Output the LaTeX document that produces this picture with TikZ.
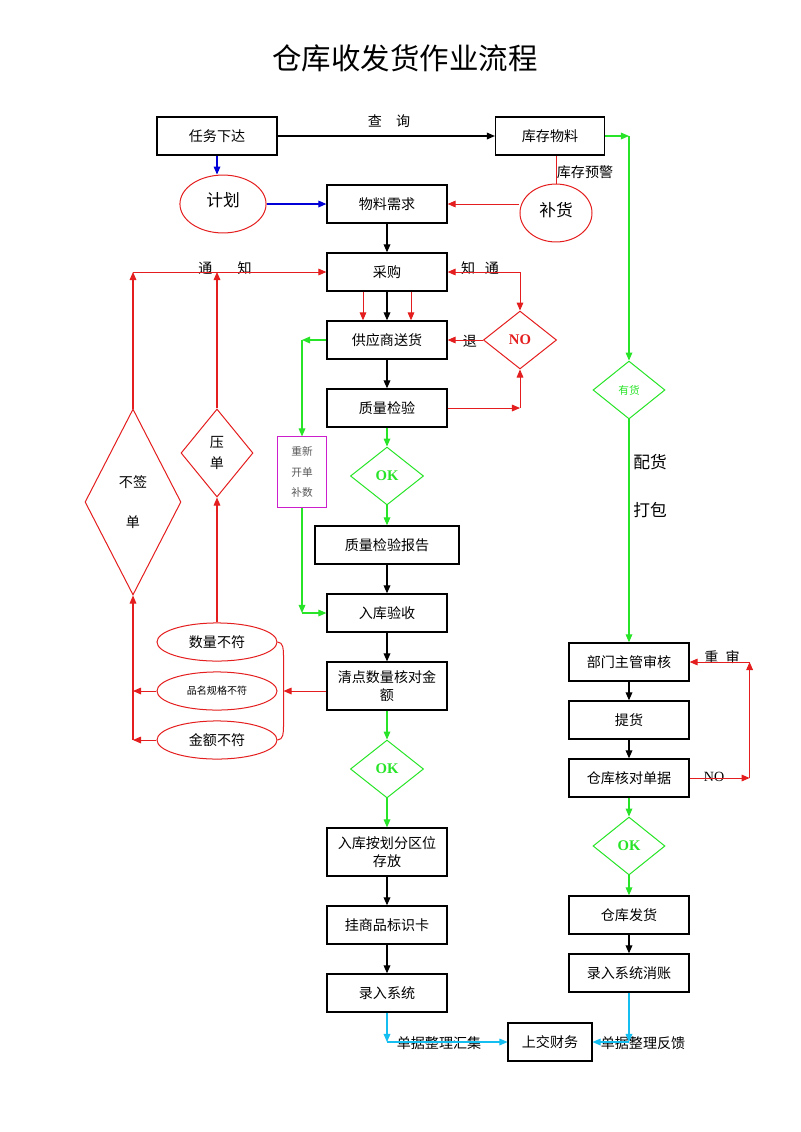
\documentclass[tikz,border=0pt]{standalone}
\usepackage{fontspec}
\setmainfont{Liberation Serif}
\newfontfamily\cjk{Noto Sans CJK SC}
\usetikzlibrary{shapes,arrows.meta,calc,positioning}
\definecolor{flowred}{RGB}{228,30,30}
\definecolor{flowgreen}{RGB}{40,228,40}
\definecolor{flowblue}{RGB}{0,0,215}
\definecolor{flowcyan}{RGB}{20,190,240}
\definecolor{flowpink}{RGB}{205,30,205}

\begin{document}
\begin{tikzpicture}[x=0.02625cm,y=-0.02625cm,
    >={Triangle[length=6pt,width=5pt]},
    font=\cjk\fontsize{10.5}{13}\selectfont]
      \tikzset{box/.style={draw,
          line width=0.9pt,
          minimum width=3.15cm,
          minimum height=1cm,
          inner sep=1pt,
          align=center},
        redoval/.style={draw=flowred, ellipse, line width=0.75pt,
          minimum width=3.15cm, minimum height=1cm, inner sep=0pt},
        reddiamond/.style={draw=flowred, diamond, line width=0.75pt,
          inner sep=0pt, align=center},
        gdiamond/.style={draw=flowgreen, diamond, line width=0.75pt,
          minimum width=1.92cm, minimum height=1.52cm, inner sep=0pt,
          text=flowgreen},
        okfont/.style={font=\rmfamily\bfseries\fontsize{11}{13}\selectfont},
        bigfont/.style={font=\cjk\fontsize{12.5}{15}\selectfont},
        line/.style={line width=0.9pt},
        redline/.style={draw=flowred, line width=0.75pt},
        greenline/.style={draw=flowgreen, line width=0.8pt}
      }
      \useasboundingbox (0,0) rectangle (800,1132);

      \node (title) at (405,58) {\fontsize{22}{26}\selectfont 仓库收发货作业流程};

      % middle column
      \node [box] (task) at (217,136) {任务下达};
      \node [box,minimum width=2.86cm] (stock) at (550,136) {库存物料};
      \node [box] (need) at (387,204) {物料需求};
      \node [box] (buy) at (387,272) {采购};
      \node [box] (supply) at (387,340) {供应商送货};
      \node [box] (check) at (387,408) {质量检验};
      \node [gdiamond,okfont] (ok1) at (387,476) {OK};
      \node [box,minimum width=3.78cm] (report) at (387,545) {质量检验报告};
      \node [box] (accept) at (387,613) {入库验收};
      \node [box,minimum height=1.26cm] (count) at (387,686) {清点数量核对金\\额};
      \node [gdiamond,okfont] (ok2) at (387,769) {OK};
      \node [box,minimum height=1.26cm] (store) at (387,852) {入库按划分区位\\存放};
      \node [box] (tag) at (387,925) {挂商品标识卡};
      \node [box] (entry) at (387,993) {录入系统};
      \node [box,minimum width=2.2cm] (finance) at (550,1042) {上交财务};

      % right column
      \node [gdiamond,minimum width=1.89cm,font=\cjk\fontsize{8}{10}\selectfont] (have) at (629,390) {有货};
      \node [box] (approve) at (629,662) {部门主管审核};
      \node [box] (pick) at (629,720) {提货};
      \node [box] (verify) at (629,778) {仓库核对单据};
      \node [gdiamond,okfont,minimum width=1.89cm] (ok3) at (629,846) {OK};
      \node [box] (ship) at (629,915) {仓库发货};
      \node [box] (writeoff) at (629,973) {录入系统消账};

      % ovals and red diamonds
      \node [redoval,bigfont,minimum width=2.26cm,minimum height=1.52cm] (plan) at (223,204) {\raisebox{7pt}{计划}};
      \node [redoval,bigfont,minimum width=1.89cm,minimum height=1.52cm] (refill) at (556,213) {\raisebox{6pt}{补货}};
      \node [reddiamond,okfont,text=flowred,minimum width=1.92cm,minimum height=1.52cm] (no1) at (520,340) {NO};
      \node [reddiamond,minimum width=2.52cm,minimum height=4.88cm] (nosign) at (133,502) {不签\\[0.6cm]单};
      \node [reddiamond,minimum width=1.89cm,minimum height=2.31cm] (hold) at (217,453) {压\\[0.1cm]单};
      \node [redoval] (qty) at (217,642) {数量不符};
      \node [redoval,font=\cjk\fontsize{7.5}{9}\selectfont] (spec) at (217,691) {品名规格不符};
      \node [redoval] (amount) at (217,740) {金额不符};
      \node [draw=flowpink,line width=0.75pt,minimum width=1.29cm,minimum height=1.84cm,align=center,
        text=black!65,font=\cjk\fontsize{8}{15}\selectfont] (redo) at (302,472) {重新\\开单\\补数};

      % labels
      \node (query) at (389,121) {查\quad 询};
      \node (warn) at (585,172) {库存预警};
      \node (notice) at (225,268) {通\hspace{1.8em}知};
      \node (notice2) at (480,268) {知\hspace{0.7em}通};
      \node (back) at (470,341) {退};
      \node (recheck) at (722,657) {重\hspace{0.5em}审};
      \node [font=\rmfamily\fontsize{10.5}{13}\selectfont] (nolbl) at (714,777) {NO};
      \node [bigfont] (sort) at (650,462) {配货};
      \node [bigfont] (pack) at (650,510) {打包};
      \node (collect) at (439,1043) {单据整理汇集};
      \node (feedback) at (643,1043) {单据整理反馈};

      % black flow
      \draw [->,line] (task)--(stock);
      \draw [->,line] (need)--(buy);
      \draw [->,line] (buy)--(supply);
      \draw [->,line] (supply)--(check);
      \draw [->,line] (report)--(accept);
      \draw [->,line] (accept)--(count);
      \draw [->,line] (store)--(tag);
      \draw [->,line] (tag)--(entry);
      \draw [->,line] (approve)--(pick);
      \draw [->,line] (pick)--(verify);
      \draw [->,line] (ship)--(writeoff);

      % blue
      \draw [->,flowblue,line width=0.8pt] (task.south)--(task.south|-plan.north);
      \draw [->,flowblue,line width=0.8pt] (plan)--(need);

      % red, top right
      \draw [->,redline] (need.east-|refill.west)--(need.east);
      \draw [redline] (refill.north|-stock.south)--(refill.north);
      \draw [->,redline] ($(buy.south)+(-24,0)$)--($(supply.north)+(-24,0)$);
      \draw [->,redline] ($(buy.south)+(24,0)$)--($(supply.north)+(24,0)$);
      \coordinate (noturn) at (no1.north|-buy.east);
      \draw [->,redline] (noturn)--(buy.east);
      \draw [->,redline] (noturn)--(no1.north);
      \draw [->,redline] (no1.west)--(supply.east);
      \coordinate (chkturn) at (no1.south|-check.east);
      \draw [->,redline] (check.east)--(chkturn);
      \draw [->,redline] (chkturn)--(no1.south);

      % green
      \draw [->,greenline] (check)--(ok1);
      \draw [->,greenline] (ok1)--(report);
      \draw [->,greenline] (count)--(ok2);
      \draw [->,greenline] (ok2)--(store);
      \coordinate (gturn) at (redo.north|-supply.west);
      \draw [->,greenline] (supply.west)--(gturn);
      \draw [->,greenline] (gturn)--(redo.north);
      \coordinate (gturn2) at (redo.south|-accept.west);
      \draw [->,greenline] (redo.south)--(gturn2);
      \draw [->,greenline] (gturn2)--(accept.west);
      \coordinate (rturn) at (have.north|-stock.east);
      \draw [->,greenline] (stock.east)--(rturn);
      \draw [->,greenline] (rturn)--(have.north);
      \draw [->,greenline] (have.south)--(approve.north);
      \draw [->,greenline] (verify)--(ok3);
      \draw [->,greenline] (ok3)--(ship);

      % red, recheck loop
      \coordinate (vturn) at ($(verify.east)+(60,0)$);
      \coordinate (aturn) at (vturn|-approve.east);
      \draw [->,redline] (verify.east)--(vturn);
      \draw [->,redline] (vturn)--(aturn);
      \draw [->,redline] (aturn)--(approve.east);

      % red, left side
      \coordinate (nsturn) at (nosign.north|-buy.west);
      \coordinate (hturn) at (hold.north|-buy.west);
      \draw [->,redline] (nosign.north)--(nsturn);
      \draw [->,redline] (nsturn)--(buy.west);
      \draw [->,redline] (hold.north)--(hturn);
      \draw [->,redline] (qty.north)--(hold.south);
      \coordinate (brace) at ($(spec.east)+(6,0)$);
      \draw [->,redline] (count.west|-brace)--(brace);
      \draw [redline] (qty.east) to[out=0,in=90] ($(qty.east)+(6,14)$)
        --($(amount.east)+(6,-14)$) to[out=-90,in=0] (amount.east);
      \coordinate (sturn) at (nosign.south|-spec.west);
      \coordinate (mturn) at (nosign.south|-amount.west);
      \draw [->,redline] (spec.west)--(sturn);
      \draw [->,redline] (amount.west)--(mturn);
      \draw [redline] (sturn)--(mturn);
      \draw [->,redline] (sturn)--(nosign.south);

      % cyan
      \coordinate (lturn) at (entry.south|-finance.west);
      \coordinate (rturn2) at (writeoff.south|-finance.east);
      \draw [->,flowcyan,line width=0.8pt] (entry.south)--(lturn);
      \draw [->,flowcyan,line width=0.8pt] (lturn)--(finance.west);
      \draw [->,flowcyan,line width=0.8pt] (writeoff.south)--(rturn2);
      \draw [->,flowcyan,line width=0.8pt] (rturn2)--(finance.east);
\end{tikzpicture}
\end{document}
